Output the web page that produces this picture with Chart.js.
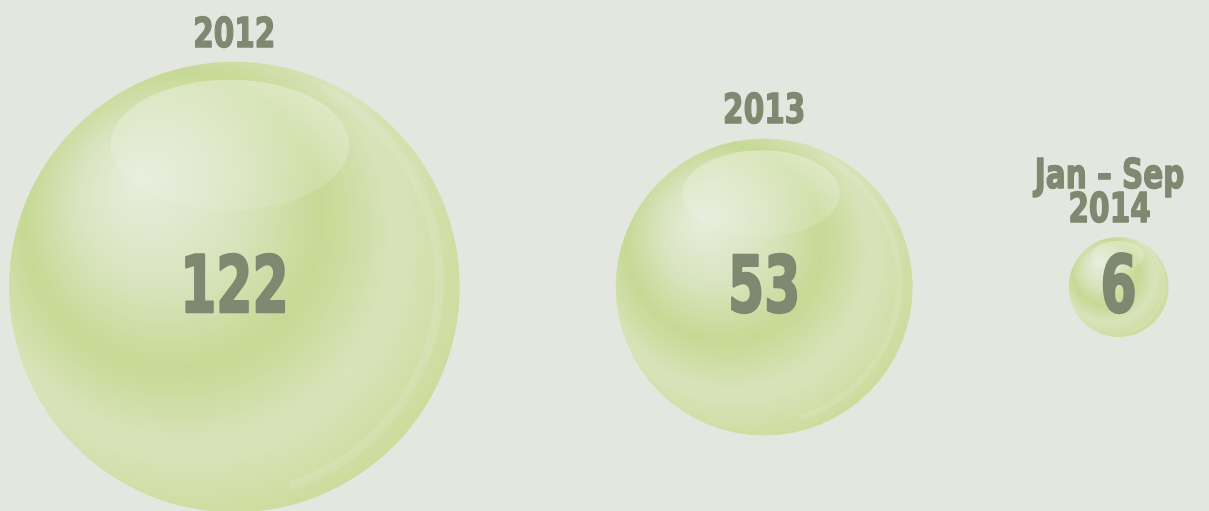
<!DOCTYPE html>
<html>
<head>
<meta charset="utf-8">
<script src="https://cdn.jsdelivr.net/npm/chart.js@4.4.1/dist/chart.umd.min.js"></script>
<style>
  html, body { margin: 0; padding: 0; background: #e4e7df; }
  #wrap { width: 1209px; height: 511px; position: relative; }
</style>
</head>
<body>
<div id="wrap"><canvas id="bubbles"></canvas></div>
<script>
const periods = ['2012', '2013', 'Jan – Sep\n2014'];
const counts = [122, 53, 6];

const TEXT = '#7f8870';
const FONT = '"DejaVu Sans Condensed", "Liberation Sans Narrow", sans-serif';
const SCALE = 20.4;   // px radius per sqrt(count)
const GAP = 156;      // space between bubbles
const LEFT = 9;

// pack the bubbles left to right, radius from area
const radii = counts.map(v => SCALE * Math.sqrt(v));
const centers = [];
let edge = LEFT;
radii.forEach(r => {
  centers.push(edge + r);
  edge += 2 * r + GAP;
});

const points = counts.map((v, i) => ({ x: centers[i], y: 0, r: radii[i] }));

function sphereFill(context) {
  const chart = context.chart;
  if (!chart.chartArea || context.type !== 'data') return '#cfdca6';
  const raw = context.raw;
  const cx = chart.scales.x.getPixelForValue(raw.x);
  const cy = chart.scales.y.getPixelForValue(raw.y);
  const r = raw.r;
  const g = chart.ctx.createRadialGradient(cx - 0.42 * r, cy - 0.48 * r, 0, cx - 0.15 * r, cy - 0.15 * r, r * 1.2);
  g.addColorStop(0, '#e8eddd');
  g.addColorStop(0.3, '#d9e4bf');
  g.addColorStop(0.55, '#c6d994');
  g.addColorStop(0.78, '#d9e3bb');
  g.addColorStop(1, '#cddc9d');
  return g;
}

// draw text squeezed horizontally so it reads as a condensed heavy face
function squeezed(ctx, text, x, y, size, sx, weight) {
  ctx.save();
  ctx.font = 'bold ' + size + 'px ' + FONT;
  ctx.translate(x, y);
  ctx.scale(sx, 1);
  ctx.lineWidth = weight;
  ctx.lineJoin = 'round';
  ctx.strokeText(text, 0, 0);
  ctx.fillText(text, 0, 0);
  ctx.restore();
}

const gloss = {
  id: 'gloss',
  afterDatasetsDraw(chart) {
    const ctx = chart.ctx;
    const meta = chart.getDatasetMeta(0);
    meta.data.forEach((el, i) => {
      const r = el.options.radius;
      const x = el.x, y = el.y;

      // faint crescent on the right
      ctx.save();
      ctx.beginPath();
      ctx.arc(x, y, r, 0, Math.PI * 2);
      ctx.clip();
      ctx.beginPath();
      ctx.arc(x - 0.05 * r, y - 0.03 * r, r * 0.96, -Math.PI * 0.35, Math.PI * 0.4);
      ctx.strokeStyle = 'rgba(232,238,218,0.2)';
      ctx.lineWidth = r * 0.04;
      ctx.stroke();
      ctx.restore();

      // top highlight
      ctx.save();
      const hx = x - 0.02 * r, hy = y - 0.63 * r;
      const hg = ctx.createLinearGradient(0, hy - 0.29 * r, 0, hy + 0.29 * r);
      hg.addColorStop(0, 'rgba(238,242,228,0.5)');
      hg.addColorStop(1, 'rgba(238,242,228,0.15)');
      ctx.beginPath();
      ctx.ellipse(hx, hy, 0.53 * r, 0.29 * r, 0, 0, Math.PI * 2);
      ctx.fillStyle = hg;
      ctx.fill();
      ctx.restore();

      ctx.save();
      ctx.fillStyle = TEXT;
      ctx.strokeStyle = TEXT;
      ctx.textAlign = 'center';
      ctx.textBaseline = 'alphabetic';
      // value
      squeezed(ctx, String(counts[i]), x, y + 25, 78, 0.74, 2.5);

      // period label above
      const lines = periods[i].split('\n');
      const top = y - r;
      lines.forEach((ln, j) => {
        const fromBottom = lines.length - 1 - j;
        squeezed(ctx, ln, x - (lines.length > 1 ? 9 : 0), top - 15 - fromBottom * 34, 41, 0.8, 1.5);
      });
      ctx.restore();
    });
  }
};

new Chart(document.getElementById('bubbles'), {
  type: 'bubble',
  data: {
    datasets: [{
      label: 'Count',
      data: points,
      backgroundColor: sphereFill,
      borderWidth: 0,
      hoverBorderWidth: 0,
      clip: false
    }]
  },
  options: {
    responsive: true,
    maintainAspectRatio: false,
    animation: false,
    layout: { autoPadding: false, padding: { top: 63, right: 0, bottom: 0, left: 0 } },
    scales: {
      x: { type: 'linear', min: 0, max: 1209, display: false },
      y: { type: 'linear', min: -1, max: 1, display: false }
    },
    plugins: {
      legend: { display: false },
      tooltip: { enabled: false }
    }
  },
  plugins: [gloss]
});
</script>
</body>
</html>
